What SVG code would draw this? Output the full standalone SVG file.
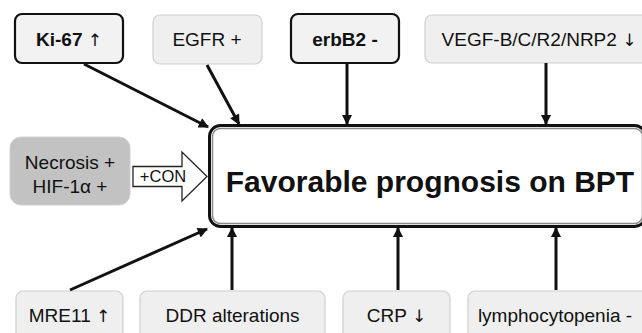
<svg xmlns="http://www.w3.org/2000/svg" width="642" height="333" viewBox="0 0 642 333">
<style>
text{font-family:"Liberation Sans",Arial,sans-serif;fill:#111;text-anchor:middle}
.n{font-size:19px}
.b{font-size:19px;font-weight:bold}
.ar{font-family:"DejaVu Sans",sans-serif;font-weight:normal;font-size:17px}
.bold-box{fill:#f2f2f2;stroke:#111;stroke-width:2.2}
.soft-box{fill:#efefef;stroke:#cfcfcf;stroke-width:1.2}
.conn line{stroke:#111;stroke-width:3;marker-end:url(#ah)}
</style>
<defs>
<marker id="ah" viewBox="0 0 10 10" refX="9" refY="5" markerWidth="3.6" markerHeight="3.4" orient="auto" markerUnits="strokeWidth">
<path d="M0,0 L10,5 L0,10 z" fill="#111"/>
</marker>
</defs>
<rect width="642" height="333" fill="#fff"/>

<g id="main">
<rect x="209.5" y="125.5" width="436" height="101" rx="11" fill="#fff" stroke="#111" stroke-width="3"/>
<rect x="212.5" y="128.5" width="430" height="95" rx="8" fill="none" stroke="#8a8a8a" stroke-width="1.5"/>
<text x="430" y="192" style="font-size:30px;font-weight:bold">Favorable prognosis on BPT</text>
</g>

<g id="ki67">
<rect class="bold-box" x="15" y="14" width="108" height="49" rx="7"/>
<text x="69" y="46" class="b">Ki-67 <tspan class="ar">↑</tspan></text>
</g>
<g id="egfr">
<rect class="soft-box" x="153" y="15" width="109" height="49" rx="7"/>
<text x="207" y="46" class="n">EGFR +</text>
</g>
<g id="erbb2">
<rect class="bold-box" x="291" y="14" width="108" height="49" rx="7"/>
<text x="345" y="46" class="b">erbB2 -</text>
</g>
<g id="vegf">
<rect class="soft-box" x="425" y="15" width="230" height="48" rx="7"/>
<text x="539" y="46" class="n">VEGF-B/C/R2/NRP2 <tspan class="ar">↓</tspan></text>
</g>

<g id="necrosis">
<rect x="10" y="137" width="120" height="68" rx="11" fill="#c2c2c2" stroke="#d0d0d0" stroke-width="1"/>
<text x="70" y="169" class="n">Necrosis +</text>
<text x="70" y="193" class="n">HIF-1α +</text>
</g>

<g id="con">
<path d="M133,166.5 L182,166.5 L182,152 L207,176.5 L182,201 L182,186.5 L133,186.5 Z" fill="#fff" stroke="#222" stroke-width="1.3"/>
<text x="163" y="182" style="font-size:16.5px">+CON</text>
</g>

<g id="mre11">
<rect class="soft-box" x="16" y="291" width="107" height="60" rx="7"/>
<text x="69.5" y="322" class="n">MRE11 <tspan class="ar">↑</tspan></text>
</g>
<g id="ddr">
<rect class="soft-box" x="140" y="291" width="185" height="60" rx="7"/>
<text x="232.5" y="322" class="n">DDR alterations</text>
</g>
<g id="crp">
<rect class="soft-box" x="343" y="291" width="107" height="60" rx="7"/>
<text x="396.5" y="322" class="n">CRP <tspan class="ar">↓</tspan></text>
</g>
<g id="lymph">
<rect class="soft-box" x="468" y="291" width="190" height="60" rx="7"/>
<text x="555" y="322" class="n">lymphocytopenia -</text>
</g>

<g id="connectors" class="conn">
<line x1="84" y1="64" x2="208" y2="127"/>
<line x1="207" y1="65" x2="239" y2="124"/>
<line x1="347" y1="63" x2="347" y2="124"/>
<line x1="546" y1="63" x2="546" y2="124"/>
<line x1="70" y1="290" x2="207" y2="229"/>
<line x1="232" y1="290" x2="232" y2="228"/>
<line x1="398" y1="290" x2="398" y2="228"/>
<line x1="556" y1="290" x2="556" y2="228"/>
</g>
</svg>
